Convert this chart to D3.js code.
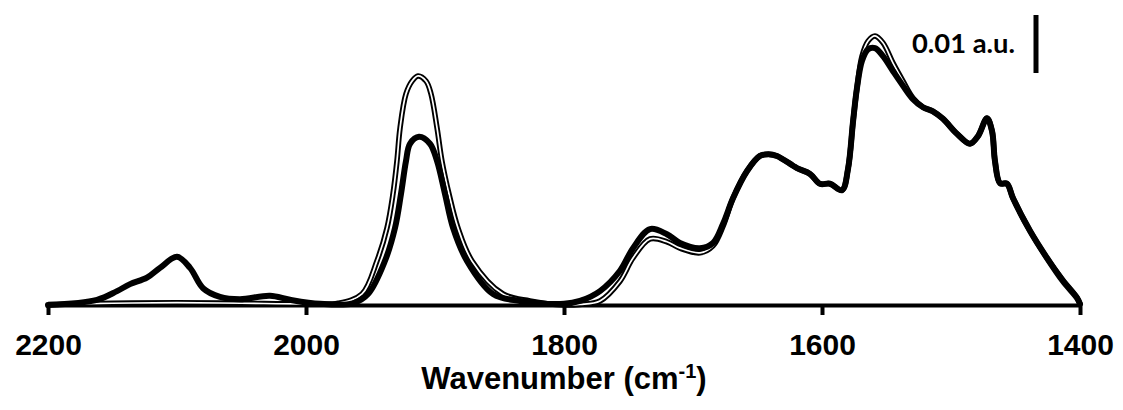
<!DOCTYPE html>
<html>
<head>
<meta charset="utf-8">
<script src="https://cdn.jsdelivr.net/npm/d3@7"></script>
<style>
  body { margin: 0; background: #fff; }
</style>
</head>
<body>
<svg id="chart" width="1123" height="410"></svg>
<script>
// absorbance in units of 0.001 a.u., wavenumber in cm-1
var thickWn = [2200, 2162, 2146.5, 2136.4, 2123.3, 2113.2, 2100, 2089.9, 2079.8, 2066.7,
  2051.2, 2027.9, 2012.4, 1989.1, 1963.6, 1951.9, 1938.8, 1931, 1926.4, 1922.5,
  1919.4, 1912.4, 1903.9, 1898.4, 1892.2, 1886, 1875.2, 1855, 1834.1, 1800,
  1787.6, 1772.1, 1756.6, 1746.5, 1733.3, 1720.2, 1710.1, 1694.6, 1684.5, 1676.7,
  1669, 1658.1, 1648.1, 1641.5, 1634.9, 1619.4, 1609.3, 1601.6, 1593.8, 1584.5,
  1579.8, 1575.9, 1572.9, 1569, 1564.3, 1558.9, 1552.7, 1544.9, 1537.2, 1529.5,
  1521.7, 1514, 1506.2, 1495.3, 1485.3, 1479.1, 1472.1, 1468.2, 1465.9, 1462,
  1456.6, 1451.9, 1438.8, 1425.6, 1413.2, 1402.3, 1400];
var thickAbs = [0.0, 0.9, 2.4, 3.6, 4.7, 6.4, 8.3, 6.4, 2.9, 1.4,
  1.0, 1.6, 0.9, 0.2, 0.3, 1.9, 7.6, 13.3, 19.1, 24.8,
  27.8, 29.0, 27.8, 24.8, 19.1, 13.3, 7.6, 1.9, 0.7, 0.2,
  0.7, 2.4, 5.9, 9.8, 13.1, 12.2, 10.7, 9.8, 10.7, 14.0,
  18.4, 23.1, 25.7, 26.0, 25.7, 23.6, 22.6, 20.9, 20.9, 19.8,
  23.5, 31.7, 37.4, 42.1, 44.1, 44.3, 42.9, 40.3, 37.8, 35.5,
  34.1, 33.4, 32.1, 29.5, 27.8, 29.1, 32.2, 30.0, 24.8, 21.0,
  20.9, 18.4, 12.8, 8.1, 4.1, 1.2, 0.2];

var outlineWn = [2200, 2150, 2100, 2050, 2000, 1975, 1956.6, 1945, 1937.2, 1932.6,
  1929.5, 1927.1, 1922.5, 1917.8, 1913.2, 1906.9, 1903.1, 1898.4, 1894.6, 1889.1,
  1882.2, 1871.3, 1847.3, 1826.4, 1800, 1787.6, 1772.1, 1756.6, 1746.5, 1733.3,
  1720.2, 1710.1, 1694.6, 1684.5, 1676.7, 1669, 1658.1, 1648.1, 1641.5, 1634.9,
  1619.4, 1609.3, 1601.6, 1593.8, 1584.5, 1579.8, 1575.9, 1572.9, 1569, 1564.3,
  1558.9, 1552.7, 1544.9, 1537.2, 1529.5, 1521.7, 1514, 1506.2, 1495.3, 1485.3,
  1479.1, 1472.1, 1468.2, 1465.9, 1462, 1456.6, 1451.9, 1438.8, 1425.6, 1413.2,
  1402.3, 1400];
var outlineAbs = [0.1, 0.3, 0.4, 0.3, 0.2, 0.3, 1.9, 7.6, 13.3, 19.1,
  24.8, 30.5, 36.4, 38.6, 39.5, 38.6, 36.4, 30.5, 24.8, 19.1,
  13.3, 7.6, 1.9, 0.7, 0.0, 0.1, 0.7, 4.1, 8.1, 11.4,
  10.9, 9.8, 9.0, 10.2, 13.6, 18.4, 23.1, 25.7, 26.0, 25.7,
  23.6, 22.6, 20.9, 20.9, 19.8, 23.5, 31.7, 37.4, 42.9, 45.5,
  46.4, 45.2, 41.7, 38.6, 35.7, 34.1, 33.4, 32.1, 29.5, 27.8,
  29.1, 32.2, 30.0, 24.8, 21.0, 20.9, 18.4, 12.8, 8.1, 4.3,
  1.3, 0.2];

var xTicks = [2200, 2000, 1800, 1600, 1400];
var scaleBar = [40, 50];
var scaleLabel = "0.01 a.u.";

var svg = d3.select("#chart");
var x = d3.scaleLinear().domain([2200, 1400]).range([48, 1080]);
var y = d3.scaleLinear().domain([0, 50]).range([305, 15]);

var axis = svg.append("g")
  .attr("transform", "translate(0," + y(0) + ")")
  .call(d3.axisBottom(x).tickValues(xTicks).tickSize(10).tickSizeOuter(0).tickFormat(d3.format("d")));
axis.select(".domain").attr("stroke", "#000").attr("stroke-width", 4);
axis.selectAll(".tick line").attr("stroke", "#000").attr("stroke-width", 4);
axis.selectAll(".tick text")
  .attr("y", 50).attr("dy", 0)
  .attr("fill", "#000")
  .style("font-family", "'Liberation Sans', Arial, sans-serif")
  .style("font-weight", "bold")
  .style("font-size", "30px");

var title = svg.append("text")
  .attr("x", x(1800)).attr("y", 389)
  .attr("text-anchor", "middle")
  .style("font-family", "'Liberation Sans', Arial, sans-serif")
  .style("font-weight", "bold")
  .style("font-size", "31px");
title.append("tspan").text("Wavenumber (cm");
title.append("tspan").attr("dy", -11).style("font-size", "20px").text("-1");
title.append("tspan").attr("dy", 11).text(")");

var line = d3.line()
  .x(function (d) { return x(d[0]); })
  .y(function (d) { return y(d[1]); })
  .curve(d3.curveCatmullRom.alpha(0.5));

var outline = d3.zip(outlineWn, outlineAbs);
var thick = d3.zip(thickWn, thickAbs);

svg.append("path").datum(outline)
  .attr("d", line).attr("fill", "none")
  .attr("stroke", "#000").attr("stroke-width", 5.5)
  .attr("stroke-linejoin", "round");
svg.append("path").datum(outline)
  .attr("d", line).attr("fill", "none")
  .attr("stroke", "#fff").attr("stroke-width", 1.7)
  .attr("stroke-linejoin", "round");
svg.append("path").datum(thick)
  .attr("d", line).attr("fill", "none")
  .attr("stroke", "#000").attr("stroke-width", 6)
  .attr("stroke-linejoin", "round").attr("stroke-linecap", "round");

// scale bar
svg.append("line")
  .attr("x1", 1036).attr("x2", 1036)
  .attr("y1", y(scaleBar[0])).attr("y2", y(scaleBar[1]))
  .attr("stroke", "#000").attr("stroke-width", 5);
svg.append("text")
  .attr("x", 1015).attr("y", 53)
  .attr("text-anchor", "end")
  .attr("textLength", 103).attr("lengthAdjust", "spacingAndGlyphs")
  .style("font-family", "Lato, 'Open Sans', sans-serif")
  .style("font-weight", "bold")
  .style("font-size", "27px")
  .text(scaleLabel);
</script>
</body>
</html>
